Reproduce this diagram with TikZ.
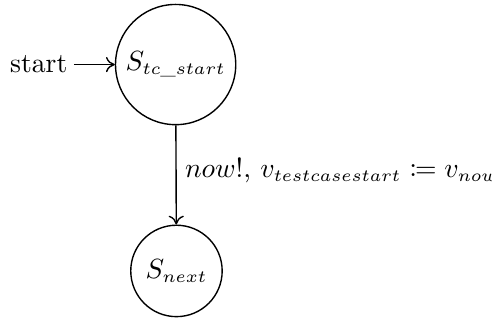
\RequirePackage{fix-cm}
\documentclass[tikz,border=0pt]{standalone}
\usepackage{mathtools}
\DeclareMathSizes{10}{10}{6.2}{5}
\usetikzlibrary{arrows.meta}
\begin{document}
\begin{tikzpicture}[x=1pt,y=1pt,
  state/.style={circle,draw,line width=0.5pt,inner sep=0pt},
  trans/.style={draw,line width=0.5pt,-{To[length=3.2pt,width=5.5pt]}}]
\useasboundingbox (0,0) rectangle (177.6,-115.5);
\node[state,minimum size=43.4pt] (s0) at (63.4,-23.3) {$S_{tc\_start}$};
\node[state,minimum size=33pt] (s1) at (63.7,-97.8) {$S_{next}$};
\node[anchor=east,inner sep=2.2pt] (st) at (26.7,-23.3) {start};
\draw[trans] (st) -- (s0);
\draw[trans] (s0) -- node[right,inner sep=3pt,yshift=1.5pt] (lab) {$now!$, $v_{testcasestart} \coloneqq v_{now}$} (s1);
\end{tikzpicture}
\end{document}
